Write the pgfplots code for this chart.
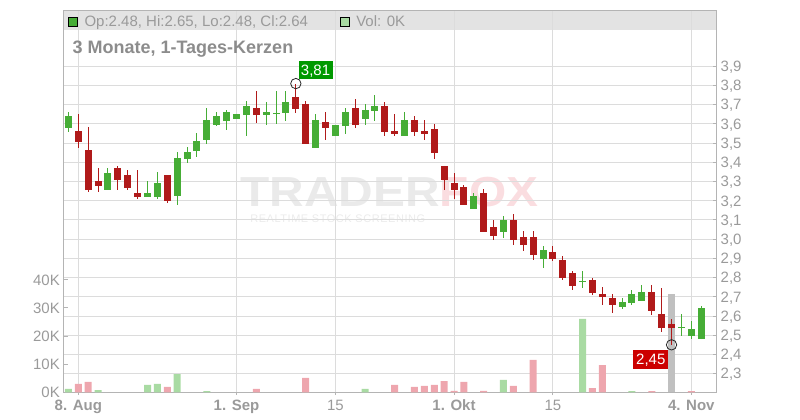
\documentclass[border=0pt]{standalone}
\usepackage{pgfplots}
\pgfplotsset{compat=1.18}
\usepackage{pgfplotstable}
\usepackage{fontspec}
\setmainfont{Liberation Sans}

\definecolor{upc}{HTML}{46AD36}
\definecolor{dnc}{HTML}{B01A1A}
\definecolor{vup}{HTML}{A9DBA3}
\definecolor{vdn}{HTML}{EEA6AE}
\definecolor{vsel}{HTML}{C0C0C0}
\definecolor{gridc}{HTML}{DCDCDC}
\definecolor{axc}{HTML}{B4B4B4}
\definecolor{txt}{HTML}{9A9A9A}
\definecolor{band}{HTML}{E3E3E3}
\definecolor{lblg}{HTML}{009900}
\definecolor{lblr}{HTML}{CC0000}

% daily candles, x = trading day index (0 = 8. Aug)
\pgfplotstableread{
i o h l c
-1 3.580 3.662 3.560 3.641
3 3.258 3.371 3.258 3.345
7 3.221 3.303 3.221 3.240
8 3.221 3.350 3.211 3.293
10 3.226 3.454 3.180 3.423
11 3.417 3.480 3.397 3.454
12 3.459 3.553 3.428 3.511
13 3.518 3.683 3.497 3.620
14 3.596 3.662 3.589 3.641
15 3.615 3.673 3.568 3.662
16 3.627 3.652 3.627 3.652
17 3.646 3.719 3.537 3.693
19 3.648 3.714 3.596 3.662
20 3.651 3.771 3.600 3.656
21 3.658 3.771 3.617 3.714
24 3.475 3.652 3.475 3.620
26 3.537 3.594 3.537 3.594
27 3.591 3.683 3.548 3.662
29 3.627 3.704 3.596 3.673
30 3.667 3.751 3.617 3.693
33 3.539 3.662 3.539 3.620
40 3.159 3.240 3.159 3.225
43 3.039 3.121 3.008 3.100
47 2.898 2.965 2.852 2.944
51 2.779 2.834 2.747 2.784
55 2.649 2.694 2.638 2.673
56 2.669 2.735 2.659 2.714
57 2.680 2.760 2.680 2.725
61 2.537 2.609 2.496 2.542
62 2.498 2.574 2.479 2.533
63 2.480 2.650 2.480 2.640
}\upc

\pgfplotstableread{
i o h l c
0 3.563 3.652 3.476 3.506
1 3.464 3.584 3.247 3.256
2 3.303 3.371 3.247 3.278
4 3.371 3.381 3.258 3.310
5 3.334 3.360 3.258 3.268
6 3.240 3.360 3.211 3.221
9 3.334 3.334 3.190 3.200
18 3.683 3.771 3.605 3.646
22 3.740 3.810 3.657 3.678
23 3.704 3.719 3.496 3.496
25 3.610 3.662 3.516 3.579
28 3.683 3.730 3.580 3.596
31 3.693 3.714 3.539 3.560
32 3.563 3.652 3.539 3.549
34 3.620 3.641 3.539 3.560
35 3.565 3.620 3.516 3.549
36 3.574 3.600 3.417 3.450
37 3.381 3.381 3.258 3.310
38 3.293 3.345 3.211 3.258
39 3.272 3.282 3.180 3.180
41 3.240 3.261 3.039 3.039
42 3.063 3.100 2.997 3.018
44 3.100 3.131 2.971 2.997
45 3.011 3.043 2.940 2.971
46 3.011 3.043 2.892 2.919
48 2.933 2.965 2.888 2.898
49 2.892 2.913 2.789 2.800
50 2.824 2.834 2.737 2.758
52 2.789 2.800 2.711 2.721
53 2.714 2.750 2.659 2.701
54 2.694 2.714 2.617 2.659
58 2.725 2.760 2.607 2.628
59 2.611 2.745 2.518 2.539
60 2.560 2.586 2.450 2.539
}\dnc

% volume in thousands
\pgfplotstableread{
i v
-1 1.2
2 0.8
7 2.6
8 3.0
10 6.5
13 0.4
29 1.2
43 4.4
51 26.1
56 0.4
}\volup

\pgfplotstableread{
i v
0 3.0
1 3.7
9 1.9
18 1.2
23 5.1
32 2.6
34 1.9
35 2.3
36 2.6
37 4.0
38 0.5
39 3.7
41 0.5
44 2.3
46 11.5
52 1.5
53 9.7
58 0.4
62 0.4
}\voldn

\pgfplotstableread{
i v
60 35.0
}\volsel

\pgfplotsset{
  base/.style={scale only axis, width=489.4pt, height=285.98pt,
    at={(47.63pt,20.78pt)}, anchor=south west, xmin=-1.5, xmax=64.5},
  price/.style={ymin=2.203, ymax=4.188},
  wick/.style={draw=none, mark=none, error bars/.cd, y dir=both, y explicit,
    error mark=none, error bar style={draw=#1, line width=0.75pt}},
  body/.style={draw=none, mark=none, error bars/.cd, y dir=plus, y explicit,
    error mark=none, error bar style={draw=#1, line width=5.25pt}},
}

\newcommand\lbl{\fontsize{11.25pt}{13pt}\selectfont}

\begin{document}
\begin{tikzpicture}
\useasboundingbox (0,0) rectangle (600pt,315pt);
% header band
\fill[band] (47.63pt,292.5pt) rectangle (537pt,306.75pt);
% watermark
\node[anchor=base west, inner sep=0pt] at (180pt,159.75pt)
  {\scalebox{1.14}[1]{\fontsize{31.5pt}{32pt}\selectfont\bfseries
   \textcolor[HTML]{EAEAEA}{TRADER}\textcolor[HTML]{FADDE0}{FOX}}};
\node[anchor=base west, inner sep=0pt] at (187.5pt,147.75pt)
  {\fontsize{8.25pt}{9pt}\selectfont\addfontfeature{LetterSpace=5}\textcolor[HTML]{EBEBEB}{REALTIME STOCK SCREENING}};

% grid, frame, price ticks, date ticks
\begin{axis}[base, price,
  axis line style={axc, line width=0.75pt},
  grid style={gridc, line width=0.75pt},
  xmajorgrids, ymajorgrids,
  xtick={0,16,26,38,48,62},
  xticklabels={\textbf{8. Aug},\textbf{1. Sep},15,\textbf{1. Okt},15,\textbf{4. Nov}},
  ytick={2.3,2.4,2.5,2.6,2.7,2.8,2.9,3.0,3.1,3.2,3.3,3.4,3.5,3.6,3.7,3.8,3.9},
  ytick pos=right, yticklabel pos=right, xtick pos=bottom,
  tick align=inside, major tick length=2.5pt,
  tick style={axc, line width=0.75pt},
  xtick style={yshift=-2.1pt},
  xticklabel style={font=\lbl, text=txt, inner sep=0pt, yshift=-5.6pt},
  yticklabel style={font=\lbl, text=txt, inner sep=0pt, text depth=0pt, anchor=west, xshift=3.3pt},
  /pgf/number format/.cd, use comma, fixed, fixed zerofill, precision=1, assume math mode=true,
]
\end{axis}

% volume bars
\begin{axis}[base, ymin=0, ymax=135.7,
  axis x line=none, axis y line*=left,
  y axis line style={axc, line width=0.75pt},
  xtick=\empty,
  ytick={0,10,20,30,40}, yticklabels={0K,10K,20K,30K,40K},
  tick align=inside, major tick length=3.3pt,
  tick style={axc, line width=0.75pt},
  yticklabel style={font=\lbl, text=txt, inner sep=0pt, text depth=0pt, anchor=east, xshift=-2.6pt},
]
\addplot[ybar, bar width=5.25pt, bar shift=0pt, fill=vup, draw=none] table[x=i, y=v] {\volup};
\addplot[ybar, bar width=5.25pt, bar shift=0pt, fill=vdn, draw=none] table[x=i, y=v] {\voldn};
\addplot[ybar, bar width=5.25pt, bar shift=0pt, fill=vsel, draw=none] table[x=i, y=v] {\volsel};
\end{axis}

% candles
\begin{axis}[base, price, hide axis, clip=false]
\addplot[wick=upc] table[x=i, y=o, y error plus expr=\thisrow{h}-\thisrow{o}, y error minus expr=\thisrow{o}-\thisrow{l}] {\upc};
\addplot[body=upc] table[x=i, y=o, y error plus expr=\thisrow{c}-\thisrow{o}] {\upc};
\addplot[wick=dnc] table[x=i, y=o, y error plus expr=\thisrow{h}-\thisrow{o}, y error minus expr=\thisrow{o}-\thisrow{l}] {\dnc};
\addplot[body=dnc] table[x=i, y=c, y error plus expr=\thisrow{o}-\thisrow{c}] {\dnc};
% period high and low
\addplot[only marks, mark=o, mark size=3.9pt, mark options={line width=0.6pt, draw=black!85},
  nodes near coords={3,81},
  nodes near coords style={anchor=south west, fill=lblg, text=white, font=\lbl,
    inner sep=0pt, minimum width=25.5pt, minimum height=13.5pt, text depth=0pt,
    xshift=1.7pt, yshift=2.8pt}] coordinates {(22,3.81)};
\addplot[only marks, mark=o, mark size=3.9pt, mark options={line width=0.6pt, draw=black!85},
  nodes near coords={2,45},
  nodes near coords style={anchor=north east, fill=lblr, text=white, font=\lbl,
    inner sep=0pt, minimum width=26pt, minimum height=13.8pt, text depth=0pt,
    xshift=-2.25pt, yshift=-3.75pt}] coordinates {(60,2.45)};
\end{axis}

% header legend and title
\filldraw[fill=upc, draw=black, line width=0.6pt] (51.5pt,295.3pt) rectangle (58.4pt,302.2pt);
\node[anchor=base west, inner sep=0pt, font=\lbl, text=txt] at (63.2pt,295pt) {Op:2.48, Hi:2.65, Lo:2.48, Cl:2.64};
\filldraw[fill=vup, draw=black, line width=0.6pt] (255.3pt,295.3pt) rectangle (262.2pt,302.2pt);
\node[anchor=base west, inner sep=0pt, font=\lbl, text=txt] at (267pt,295pt) {Vol: 0K};
\node[anchor=base west, inner sep=0pt, text=black!45] at (54.2pt,274.5pt)
  {\fontsize{13.5pt}{15pt}\selectfont\bfseries 3 Monate, 1-Tages-Kerzen};
\end{tikzpicture}
\end{document}
